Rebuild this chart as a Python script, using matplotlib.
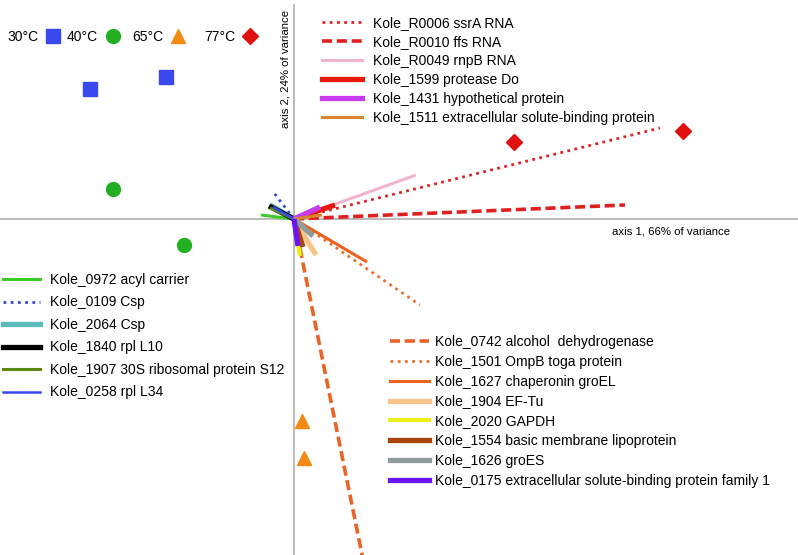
import matplotlib
matplotlib.use("Agg")
import matplotlib.pyplot as plt
from matplotlib.lines import Line2D

plt.rcParams['font.family'] = ['Liberation Sans', 'DejaVu Sans']

# sample scores (axis 1, axis 2)
temps = ["30°C", "40°C", "65°C", "77°C"]
temp_x = [[-204, -128], [-181, -110], [8, 10], [220, 389]]
temp_y = [[130, 142], [30, -26], [-202, -239], [77, 88]]
temp_marker = ["s", "o", "^", "D"]
temp_color = ["#3a49ee", "#22b022", "#f28a14", "#e01010"]
temp_size = [10, 10, 10, 8]

# gene loadings, drawn as vectors from the origin
genes_a = ["Kole_R0006 ssrA RNA", "Kole_R0010 ffs RNA", "Kole_R0049 rnpB RNA",
           "Kole_1599 protease Do", "Kole_1431 hypothetical protein",
           "Kole_1511 extracellular solute-binding protein"]
ax1_a = [366, 331, 122, 41, 26, 28]
ax2_a = [91, 14, 44, 14, 12, 4]
col_a = ["#e02020", "#e02020", "#f2b4cc", "#e8180c", "#c83cf0", "#d9852c"]
ls_a = [(0, (1, 1.6)), (0, (2.8, 1.3)), "-", "-", "-", "-"]
lw_a = [2.0, 2.6, 2.2, 3.8, 3.8, 2.2]

genes_b = ["Kole_0972 acyl carrier", "Kole_0109 Csp", "Kole_2064 Csp",
           "Kole_1840 rpl L10", "Kole_1907 30S ribosomal protein S12", "Kole_0258 rpl L34"]
ax1_b = [-33, -20, -24, -25, -24, -21]
ax2_b = [4, 26, 14, 13, 11, 12]
col_b = ["#3ccc28", "#3848dd", "#5cbcbc", "#000000", "#5a8a14", "#3848f0"]
ls_b = ["-", (0, (1, 1.6)), "-", "-", "-", "-"]
lw_b = [2.2, 2.0, 3.8, 3.8, 2.2, 1.8]

genes_c = ["Kole_0742 alcohol  dehydrogenase", "Kole_1501 OmpB toga protein",
           "Kole_1627 chaperonin groEL", "Kole_1904 EF-Tu", "Kole_2020 GAPDH",
           "Kole_1554 basic membrane lipoprotein", "Kole_1626 groES",
           "Kole_0175 extracellular solute-binding protein family 1"]
ax1_c = [76, 126, 73, 22, 6, 9, 19, 4]
ax2_c = [-375, -86, -43, -36, -37, -28, -17, -27]
col_c = ["#ea6428", "#ea7030", "#ea6420", "#f8c48a", "#eeee18", "#a8440c", "#909c9c", "#6a14f0"]
ls_c = [(0, (2.8, 1.3)), (0, (1, 1.6)), "-", "-", "-", "-", "-", "-"]
lw_c = [2.6, 2.0, 2.2, 3.8, 3.0, 3.8, 3.8, 3.8]

W, H = 798, 555
fig = plt.figure(figsize=(W / 100, H / 100), dpi=100)
ax = fig.add_axes([0, 0, 1, 1])
ax.set_xlim(-294, 504)
ax.set_ylim(-336, 219)
ax.axis("off")

ax.axhline(0, color="#a8a8a8", lw=1.1, zorder=1)
ax.plot([0, 0], [-336, 214], color="#a8a8a8", lw=1.1, zorder=1)

def draw(names, xs, ys, cols, lss, lws):
    handles = []
    for n, x, y, c, s, w in zip(names, xs, ys, cols, lss, lws):
        ax.plot([0, x], [0, y], color=c, ls=s, lw=w, solid_capstyle="butt", zorder=2)
        handles.append(Line2D([], [], color=c, ls=s, lw=w, label=n))
    return handles

h_b = draw(genes_b, ax1_b, ax2_b, col_b, ls_b, lw_b)
h_a = draw(genes_a, ax1_a, ax2_a, col_a, ls_a, lw_a)
h_c = draw(genes_c, ax1_c, ax2_c, col_c, ls_c, lw_c)

h_t = []
for t, xs, ys, m, c, s in zip(temps, temp_x, temp_y, temp_marker, temp_color, temp_size):
    ax.plot(xs, ys, ls="none", marker=m, color=c, ms=s, zorder=3)
    h_t.append(Line2D([], [], ls="none", marker=m, color=c, ms=s, label=t))

ax.text(-9, 150, "axis 2, 24% of variance", rotation=90, ha="center", va="center", fontsize=8.2)
ax.text(377, -12, "axis 1, 66% of variance", ha="center", va="center", fontsize=8.2)

def fpos(x, y):
    return (x / W, 1 - y / H)

common = dict(frameon=False, fontsize=10, borderpad=0, borderaxespad=0,
              bbox_transform=fig.transFigure, loc="upper left", handleheight=0.7)

# temperature key: one small legend per entry, spaced like the original
temp_key_x = [7, 67, 132, 204]
for h, kx in zip(h_t, temp_key_x):
    lg = ax.legend(handles=[h], markerfirst=False, bbox_to_anchor=fpos(kx, 30),
                   handlelength=1.0, handletextpad=0.55, **common)
    ax.add_artist(lg)

leg_a = ax.legend(handles=h_a, bbox_to_anchor=fpos(322, 16), handlelength=2.85,
                  handletextpad=0.85, labelspacing=0.36, **common)
ax.add_artist(leg_a)
leg_b = ax.legend(handles=h_b, bbox_to_anchor=fpos(3, 273), handlelength=2.65,
                  handletextpad=0.7, labelspacing=0.61, **common)
ax.add_artist(leg_b)
leg_c = ax.legend(handles=h_c, bbox_to_anchor=fpos(390, 335), handlelength=2.8,
                  handletextpad=0.42, labelspacing=0.42, **common)

fig.savefig("out.png", dpi=100)
